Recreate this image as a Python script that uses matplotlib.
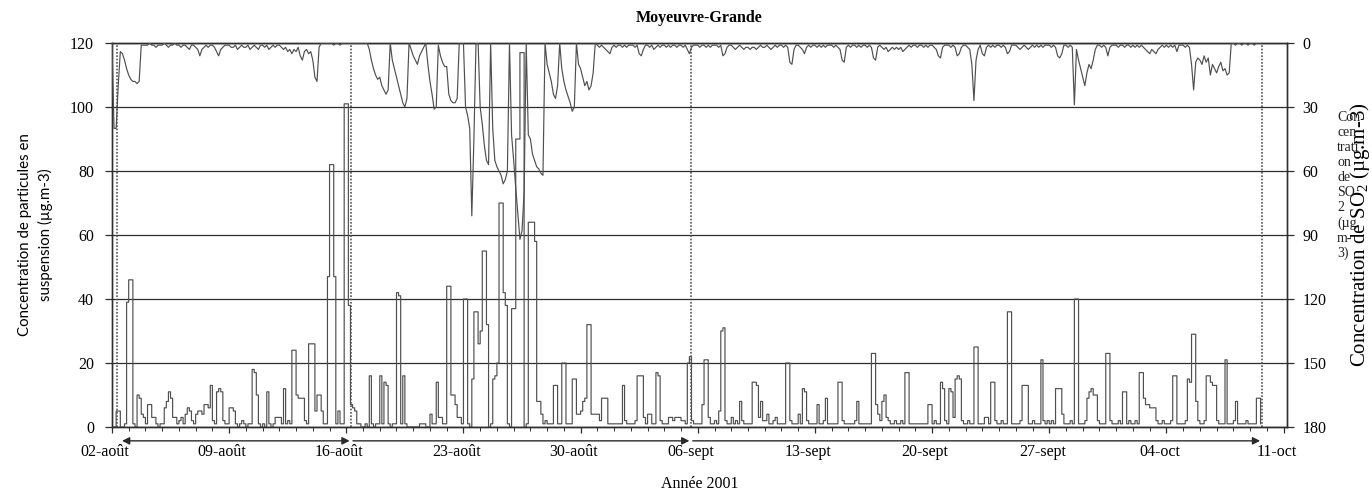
import numpy as np
import matplotlib
matplotlib.use("Agg")
import matplotlib.pyplot as plt
from matplotlib.transforms import ScaledTranslation

plt.rcParams["font.family"] = ["Liberation Serif", "DejaVu Serif"]
plt.rcParams["mathtext.fontset"] = "custom"
plt.rcParams["mathtext.rm"] = "Liberation Serif"
plt.rcParams["mathtext.it"] = "Liberation Serif:italic"

# ---------------------------------------------------------------------------
# Data: 3-hourly values, one row per day starting 02-août 2001 00h
# ---------------------------------------------------------------------------
pm_days = [  # particules en suspension (µg.m-3)
    [0, 0, 5, 5, 0, 0, 1, 39],
    [46, 46, 1, 0, 10, 9, 4, 3],
    [1, 7, 7, 3, 3, 1, 0, 1],
    [1, 6, 8, 11, 9, 3, 3, 1],
    [2, 3, 1, 4, 6, 5, 2, 1],
    [4, 5, 5, 4, 7, 7, 6, 13],
    [2, 1, 11, 12, 11, 2, 1, 1],
    [6, 6, 5, 1, 0, 1, 2, 1],
    [0, 1, 1, 18, 17, 10, 1, 0],
    [1, 0, 11, 1, 0, 1, 3, 3],
    [3, 1, 12, 1, 2, 1, 24, 24],
    [10, 9, 9, 9, 2, 1, 26, 26],
    [26, 5, 10, 10, 5, 1, 1, 47],
    [82, 82, 47, 1, 5, 1, 1, 101],
    [101, 38, 7, 6, 5, 1, 1, 0],
    [0, 1, 0, 16, 1, 0, 1, 1],
    [16, 1, 14, 13, 1, 0, 1, 1],
    [42, 41, 1, 16, 1, 0, 0, 0],
    [0, 0, 0, 1, 1, 1, 0, 0],
    [4, 1, 1, 14, 3, 3, 1, 1],
    [44, 44, 10, 10, 7, 3, 3, 1],
    [40, 40, 1, 0, 15, 36, 36, 26],
    [30, 55, 55, 32, 0, 1, 15, 16],
    [20, 70, 70, 42, 38, 1, 0, 37],
    [37, 90, 90, 117, 117, 0, 1, 64],
    [64, 64, 58, 8, 8, 4, 1, 2],
    [1, 1, 1, 13, 13, 1, 1, 20],
    [20, 1, 1, 1, 15, 15, 4, 4],
    [5, 8, 9, 32, 32, 4, 4, 4],
    [4, 2, 9, 9, 9, 1, 1, 1],
    [1, 1, 1, 1, 13, 2, 1, 1],
    [1, 1, 2, 16, 16, 16, 3, 1],
    [4, 4, 1, 1, 17, 16, 2, 1],
    [1, 1, 3, 3, 2, 3, 3, 3],
    [2, 2, 1, 20, 22, 2, 1, 1],
    [1, 1, 7, 21, 21, 3, 1, 1],
    [2, 1, 5, 30, 31, 2, 1, 1],
    [3, 1, 2, 1, 8, 2, 1, 1],
    [1, 1, 14, 14, 13, 3, 8, 2],
    [2, 4, 1, 1, 2, 3, 1, 1],
    [1, 1, 20, 20, 2, 1, 1, 1],
    [4, 1, 12, 11, 2, 1, 1, 1],
    [1, 7, 1, 1, 2, 9, 1, 1],
    [1, 1, 1, 14, 14, 2, 1, 1],
    [1, 1, 1, 2, 8, 1, 1, 1],
    [1, 1, 1, 23, 23, 7, 4, 2],
    [8, 10, 3, 2, 1, 1, 2, 1],
    [1, 2, 1, 17, 17, 1, 1, 1],
    [1, 1, 1, 1, 1, 1, 7, 7],
    [1, 2, 1, 1, 14, 12, 2, 1],
    [12, 11, 3, 15, 16, 15, 2, 1],
    [1, 2, 1, 1, 25, 25, 1, 1],
    [1, 3, 3, 1, 14, 14, 2, 1],
    [1, 2, 1, 1, 36, 36, 1, 1],
    [1, 1, 2, 13, 13, 13, 1, 1],
    [2, 1, 1, 1, 21, 2, 1, 2],
    [1, 2, 1, 12, 12, 12, 4, 1],
    [1, 1, 2, 1, 40, 40, 1, 1],
    [1, 2, 9, 11, 12, 10, 10, 2],
    [1, 1, 1, 23, 23, 2, 1, 1],
    [1, 2, 1, 11, 11, 1, 2, 1],
    [1, 2, 1, 17, 17, 9, 7, 7],
    [6, 6, 6, 2, 1, 1, 2, 1],
    [1, 1, 2, 16, 16, 1, 1, 1],
    [1, 2, 15, 14, 29, 29, 8, 2],
    [1, 1, 2, 16, 16, 14, 13, 13],
    [2, 1, 1, 1, 21, 1, 1, 1],
    [2, 8, 1, 1, 1, 1, 2, 1],
    [1, 1, 1, 9, 9, 1],
]

so2_days = [  # dioxyde de soufre (µg.m-3)
    [0, 40, 40, 20, 4, 5, 8, 12],
    [15, 17, 18, 18, 19, 18, 1, 1],
    [1, 1, 0, 1, 1, 2, 1, 1],
    [1, 0, 1, 2, 1, 1, 0, 1],
    [1, 2, 1, 1, 2, 3, 1, 1],
    [2, 3, 6, 3, 2, 1, 2, 1],
    [1, 2, 4, 6, 3, 2, 1, 1],
    [1, 2, 2, 1, 3, 2, 1, 2],
    [2, 1, 3, 2, 1, 2, 3, 1],
    [1, 2, 1, 3, 2, 1, 2, 1],
    [1, 2, 3, 2, 4, 3, 5, 3],
    [4, 2, 6, 8, 4, 3, 5, 4],
    [8, 16, 18, 2, 0, 0, 0, 0],
    [0, 0, 1, 0, 0, 1, 0, 0],
    [0, 0, 0, 0, 0, 0, 0, 0],
    [0, 0, 0, 3, 8, 12, 15, 17],
    [16, 20, 22, 24, 22, 0, 8, 12],
    [16, 20, 24, 28, 30, 26, 0, 3],
    [6, 8, 10, 6, 4, 2, 0, 10],
    [18, 24, 31, 30, 1, 6, 9, 11],
    [11, 24, 27, 28, 28, 26, 0, 0],
    [0, 30, 34, 40, 81, 45, 0, 0],
    [30, 38, 48, 55, 57, 0, 40, 55],
    [58, 60, 62, 66, 64, 60, 0, 43],
    [55, 68, 80, 92, 88, 70, 0, 43],
    [45, 52, 55, 58, 59, 61, 62, 0],
    [10, 14, 18, 24, 26, 20, 0, 12],
    [18, 22, 25, 28, 32, 30, 0, 10],
    [12, 16, 20, 18, 22, 20, 14, 0],
    [1, 2, 1, 2, 3, 4, 5, 2],
    [1, 2, 1, 1, 2, 1, 2, 1],
    [1, 1, 2, 1, 5, 6, 3, 1],
    [1, 2, 1, 3, 2, 1, 2, 1],
    [1, 2, 1, 2, 1, 1, 2, 1],
    [1, 2, 1, 3, 5, 2, 1, 1],
    [1, 2, 1, 1, 2, 1, 2, 1],
    [1, 1, 2, 1, 6, 5, 2, 1],
    [1, 2, 3, 2, 1, 2, 3, 2],
    [2, 3, 2, 2, 3, 2, 1, 2],
    [2, 1, 2, 3, 2, 1, 2, 1],
    [1, 2, 1, 2, 9, 10, 3, 1],
    [1, 2, 3, 5, 2, 1, 2, 1],
    [1, 2, 1, 2, 1, 2, 1, 1],
    [1, 2, 1, 2, 3, 8, 9, 2],
    [1, 2, 1, 1, 2, 1, 2, 1],
    [1, 2, 1, 2, 7, 8, 2, 1],
    [2, 3, 2, 4, 3, 2, 3, 2],
    [3, 2, 4, 3, 2, 1, 2, 1],
    [1, 2, 1, 1, 2, 1, 2, 1],
    [1, 2, 3, 6, 7, 2, 1, 1],
    [1, 2, 1, 2, 6, 5, 2, 1],
    [1, 2, 3, 10, 27, 8, 3, 1],
    [5, 6, 2, 1, 2, 1, 2, 1],
    [1, 2, 1, 2, 5, 4, 1, 1],
    [1, 2, 3, 2, 1, 2, 3, 2],
    [1, 2, 1, 2, 1, 2, 1, 1],
    [1, 2, 1, 2, 6, 7, 5, 1],
    [1, 2, 1, 2, 29, 3, 8, 12],
    [16, 20, 14, 10, 12, 8, 3, 1],
    [1, 2, 1, 2, 6, 2, 1, 1],
    [1, 2, 1, 1, 2, 1, 1, 2],
    [1, 2, 1, 2, 1, 2, 3, 4],
    [5, 3, 4, 5, 3, 2, 1, 2],
    [1, 2, 1, 2, 1, 4, 1, 1],
    [1, 2, 1, 2, 10, 22, 9, 7],
    [8, 10, 6, 9, 7, 15, 10, 12],
    [14, 11, 9, 13, 12, 15, 14, 0],
    [0, 1, 0, 0, 1, 0, 0, 1],
    [0, 0, 1, 0, 0, 0],
]

date_labels = ["02-août", "09-août", "16-août", "23-août", "30-août",
               "06-sept", "13-sept", "20-sept", "27-sept", "04-oct", "11-oct"]
pm_ticks = [0, 20, 40, 60, 80, 100, 120]
so2_ticks = [0, 30, 60, 90, 120, 150, 180]
# campaign periods (days since 02-août)
period_edges = [0.3, 14.3, 34.6, 68.7]

pm = np.array([v for day in pm_days for v in day], dtype=float)
so2 = np.array([v for day in so2_days for v in day], dtype=float)
t = np.arange(len(pm)) / 8.0

# ---------------------------------------------------------------------------
fig = plt.figure(figsize=(13.72, 4.97), dpi=100)
ax = fig.add_axes([0.0816, 0.1408, 0.8564, 0.7726])
ax2 = ax.twinx()

line_col = "#4f4f4f"
frame_col = "#2e2e2e"

ax.plot(t, pm, drawstyle="steps-post", color=line_col, lw=0.85, zorder=3)
ax2.plot(t, so2, color=line_col, lw=0.85, zorder=3)

ax.set_xlim(0, 70.2)
ax.set_ylim(0, 120)
ax2.set_ylim(180, 0)

ax.set_yticks(pm_ticks)
ax2.set_yticks(so2_ticks)
ax.set_xticks(np.arange(0, 7 * len(date_labels), 7))
ax.set_xticklabels(date_labels)
ax.set_xticks(np.arange(0, 71), minor=True)

ax.grid(axis="y", color=frame_col, lw=0.9)
ax.set_axisbelow(True)

for a in (ax, ax2):
    for s in a.spines.values():
        s.set_color(frame_col)
        s.set_linewidth(1.0)

ax.tick_params(axis="y", direction="out", length=5, width=0.9, color=frame_col,
               labelsize=11.5, pad=8)
ax2.tick_params(axis="y", direction="out", length=5, width=0.9, color=frame_col,
                labelsize=11.5, pad=6)
ax.tick_params(axis="x", which="major", direction="out", length=4, width=0.9,
               color=frame_col, labelsize=11.5, pad=8)
ax.tick_params(axis="x", which="minor", direction="out", length=3, width=0.7,
               color=frame_col)

# date labels sit slightly left of their tick
shift = ScaledTranslation(-0.07, 0, fig.dpi_scale_trans)
for lab in ax.get_xticklabels():
    lab.set_transform(lab.get_transform() + shift)

# period markers
for e in period_edges:
    ax.axvline(e, color="#555555", lw=1.2, ls=(0, (1, 1)), zorder=2)

arrow_y = -0.036
for i in range(len(period_edges) - 1):
    style = "<|-|>" if i == 0 else "-|>"
    x0 = period_edges[i] + (0.3 if i == 0 else 0.1)
    x1 = period_edges[i + 1] - 0.1
    ax.annotate("", xy=(x1, arrow_y), xytext=(x0, arrow_y),
                xycoords=("data", "axes fraction"),
                textcoords=("data", "axes fraction"),
                arrowprops=dict(arrowstyle=style, color="#2a2a2a", lw=1.0,
                                mutation_scale=11, shrinkA=0, shrinkB=0),
                annotation_clip=False)

ax.set_title("Moyeuvre-Grande", fontsize=11.5, fontweight="bold", pad=15)
ax.set_xlabel("Année 2001", fontsize=11.5, labelpad=12)
ax.set_ylabel("Concentration de particules en\nsuspension (µg.m-3)",
              family=["Lato", "DejaVu Sans"], fontsize=10.8, labelpad=12,
              linespacing=1.5)
ax2.set_ylabel("Concentration de SO$_2$ (µg.m-3)", fontsize=15, labelpad=16)

fig.text(1337 / 1372, 1 - 111 / 497,
         "Con\ncen\ntrati\non\nde\nSO\n2\n(µg.\nm-\n3)",
         ha="left", va="top", fontsize=10, linespacing=1.2, color="#222222")

fig.savefig("out.png", dpi=100, facecolor="white")
